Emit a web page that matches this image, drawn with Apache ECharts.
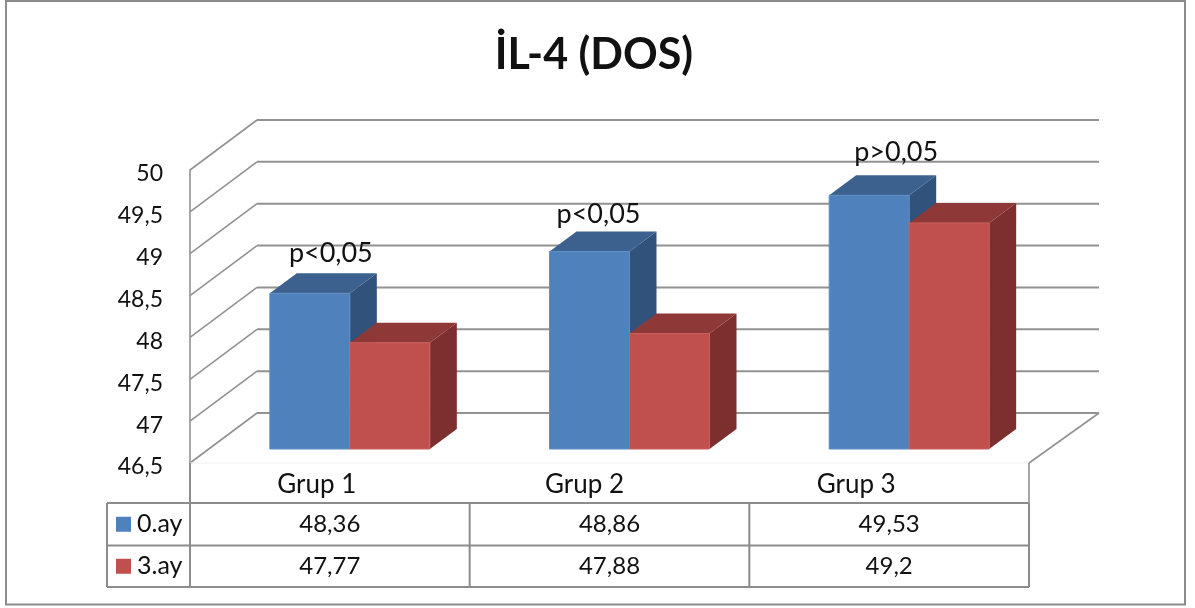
<!DOCTYPE html>
<html>
<head>
<meta charset="utf-8">
<title>IL-4 (DOS)</title>
<script src="https://cdn.jsdelivr.net/npm/echarts@6/dist/echarts.min.js"></script>
<style>
  html, body { margin: 0; padding: 0; background: #fff; }
  #chart { width: 1195px; height: 608px; }
</style>
</head>
<body>
<div id="chart"></div>
<script>
const categories = ['Grup 1', 'Grup 2', 'Grup 3']
const seriesNames = ['0.ay', '3.ay']
const values0 = [48.36, 48.86, 49.53]
const values3 = [47.77, 47.88, 49.2]
const yTicks = [46.5, 47, 47.5, 48, 48.5, 49, 49.5, 50]
const pLabels = ['p<0,05', 'p<0,05', 'p>0,05']

// depth of the fake 3D box
const wallDx = 67
const wallDy = 50
const wallOver = 3
const barDx = 27
const barDy = 20
const barLift = 14
const barShift = 20
const barWidth = 80
const catLabelShift = [-13, -25, -33]
const pLabelShift = [-19, -31, -13]
const pLabelLift = [20, 17, 23]

const font = 'Lato, Carlito, sans-serif'
const gridColor = '#929292'
const tableColor = '#8c8c8c'
const blue = { front: '#4f81bd', top: '#3d618e', side: '#31527b', edge: '#5f8dc4' }
const red = { front: '#c0504d', top: '#8e3938', side: '#7c2f2e', edge: '#c9605d' }

const fmt = (v) => String(v).replace('.', ',')

const renderWall = (params, api) => {
  const cs = params.coordSys
  const y = api.coord([0, api.value(1)])[1]
  const xBack = cs.x + wallDx
  return {
    type: 'group',
    children: [
      { type: 'line', shape: { x1: cs.x, y1: y, x2: xBack, y2: y - wallDy }, style: { stroke: gridColor, lineWidth: 1.6 } },
      { type: 'line', shape: { x1: xBack, y1: y - wallDy, x2: xBack + cs.width + wallOver, y2: y - wallDy }, style: { stroke: gridColor, lineWidth: 2 } }
    ]
  }
}

const renderFloor = (params, api) => {
  const cs = params.coordSys
  const y = cs.y + cs.height
  return {
    type: 'group',
    children: [
      { type: 'line', shape: { x1: cs.x, y1: y, x2: cs.x + cs.width, y2: y }, style: { stroke: '#eeeeee', lineWidth: 1 } },
      { type: 'line', shape: { x1: cs.x + cs.width, y1: y, x2: cs.x + cs.width + wallDx + wallOver, y2: y - wallDy }, style: { stroke: gridColor, lineWidth: 1.6 } },
      { type: 'line', shape: { x1: cs.x + cs.width, y1: y, x2: cs.x + cs.width, y2: y + 40 }, style: { stroke: gridColor, lineWidth: 1.6 } }
    ]
  }
}

// sideIndex 0 sits left of the band centre offset, 1 right of it
const makeBarRenderer = (sideIndex, colors) => (params, api) => {
  const cat = api.value(0)
  const top = api.coord([cat, api.value(1)])
  const base = api.coord([cat, yTicks[0]])
  const x0 = top[0] + barShift + (sideIndex - 1) * barWidth
  const x1 = x0 + barWidth
  const y0 = top[1] - barLift
  const y1 = base[1] - barLift
  return {
    type: 'group',
    children: [
      {
        type: 'polygon',
        shape: { points: [[x1, y0], [x1 + barDx, y0 - barDy], [x1 + barDx, y1 - barDy], [x1, y1]] },
        style: { fill: colors.side }
      },
      {
        type: 'polygon',
        shape: { points: [[x0, y0], [x0 + barDx, y0 - barDy], [x1 + barDx, y0 - barDy], [x1, y0]] },
        style: { fill: colors.top }
      },
      {
        type: 'rect',
        shape: { x: x0, y: y0, width: barWidth, height: y1 - y0 },
        style: { fill: colors.front, stroke: colors.edge, lineWidth: 1 }
      }
    ]
  }
}

const renderPLabel = (params, api) => {
  const cat = api.value(0)
  const top = api.coord([cat, api.value(1)])
  return {
    type: 'text',
    style: {
      x: top[0] + barShift + pLabelShift[cat],
      y: top[1] - barLift - barDy - pLabelLift[cat],
      text: pLabels[cat],
      font: '27px ' + font,
      fill: '#111',
      align: 'center',
      verticalAlign: 'middle'
    }
  }
}

const cellText = (x, y, text, size, align) => ({
  type: 'text',
  style: { x, y, text, font: size + 'px ' + font, fill: '#111', align: align || 'center', verticalAlign: 'middle' }
})

// data table under the plot, hung off the same x scale
const renderTable = (params, api) => {
  const cs = params.coordSys
  const bottom = cs.y + cs.height
  const rows = [bottom + 40, bottom + 82.5, bottom + 124]
  const colLeft = 107
  const bandW = cs.width / categories.length
  const line = (x1, y1, x2, y2) => ({
    type: 'line',
    shape: { x1, y1, x2, y2 },
    style: { stroke: tableColor, lineWidth: 2 }
  })
  const children = []
  rows.forEach((y) => children.push(line(colLeft, y, cs.x + cs.width, y)))
  children.push(line(colLeft, rows[0], colLeft, rows[2]))
  for (let i = 0; i <= categories.length; i++) {
    const x = cs.x + i * bandW
    children.push(line(x, rows[0], x, rows[2]))
  }
  children.push(line(cs.x, bottom, cs.x, rows[0]))

  categories.forEach((name, i) => {
    const cx = api.coord([i, yTicks[0]])[0]
    children.push(cellText(cx + catLabelShift[i], bottom + 22, name, 26))
    children.push(cellText(cx, (rows[0] + rows[1]) / 2, fmt(values0[i]), 24))
    children.push(cellText(cx, (rows[1] + rows[2]) / 2, fmt(values3[i]), 24))
  })
  const swatches = [blue.front, red.front]
  seriesNames.forEach((name, i) => {
    const mid = (rows[i] + rows[i + 1]) / 2
    children.push({ type: 'rect', shape: { x: 116, y: mid - 7.5, width: 15, height: 15 }, style: { fill: swatches[i] } })
    children.push(cellText(137, mid, name, 25, 'left'))
  })
  return { type: 'group', children }
}

const chart = echarts.init(document.getElementById('chart'), null, { renderer: 'canvas' })

chart.setOption({
  animation: false,
  backgroundColor: '#fff',
  title: {
    text: 'İL-4 (DOS)',
    left: 589,
    top: 29,
    textAlign: 'center',
    textStyle: { fontFamily: font, fontSize: 43, fontWeight: 'bold', color: '#111' }
  },
  graphic: [
    {
      type: 'rect',
      silent: true,
      shape: { x: 6, y: 1, width: 1179, height: 603.5 },
      style: { fill: 'none', stroke: tableColor, lineWidth: 2 }
    }
  ],
  grid: { left: 190, right: 166, top: 170, bottom: 145 },
  xAxis: {
    type: 'category',
    data: categories,
    axisLine: { show: false },
    axisTick: { show: false },
    axisLabel: { show: false }
  },
  yAxis: {
    type: 'value',
    min: 46.5,
    max: 50,
    interval: 0.5,
    splitLine: { show: false },
    axisTick: { show: false },
    axisLine: { show: true, lineStyle: { color: gridColor, width: 1.6 } },
    axisLabel: {
      margin: 27,
      color: '#111',
      formatter: (v) => '{t|' + fmt(v) + '}',
      rich: {
        t: { fontFamily: font, fontSize: 23, color: '#111', padding: [8, 0, 0, 0] }
      }
    }
  },
  series: [
    {
      type: 'custom',
      name: 'wall',
      z: 1,
      silent: true,
      clip: false,
      renderItem: renderWall,
      encode: { x: 0, y: 1 },
      data: yTicks.map((v) => [0, v])
    },
    {
      type: 'custom',
      name: 'floor',
      z: 1,
      silent: true,
      clip: false,
      renderItem: renderFloor,
      encode: { x: 0, y: 1 },
      data: [[0, yTicks[0]]]
    },
    {
      type: 'custom',
      name: seriesNames[0],
      z: 3,
      clip: false,
      renderItem: makeBarRenderer(0, blue),
      encode: { x: 0, y: 1 },
      data: values0.map((v, i) => [i, v])
    },
    {
      type: 'custom',
      name: seriesNames[1],
      z: 4,
      clip: false,
      renderItem: makeBarRenderer(1, red),
      encode: { x: 0, y: 1 },
      data: values3.map((v, i) => [i, v])
    },
    {
      type: 'custom',
      name: 'p',
      z: 5,
      silent: true,
      clip: false,
      renderItem: renderPLabel,
      encode: { x: 0, y: 1 },
      data: values0.map((v, i) => [i, v])
    },
    {
      type: 'custom',
      name: 'table',
      z: 5,
      silent: true,
      clip: false,
      renderItem: renderTable,
      encode: { x: 0, y: 1 },
      data: [[0, yTicks[0]]]
    }
  ]
})
</script>
</body>
</html>
